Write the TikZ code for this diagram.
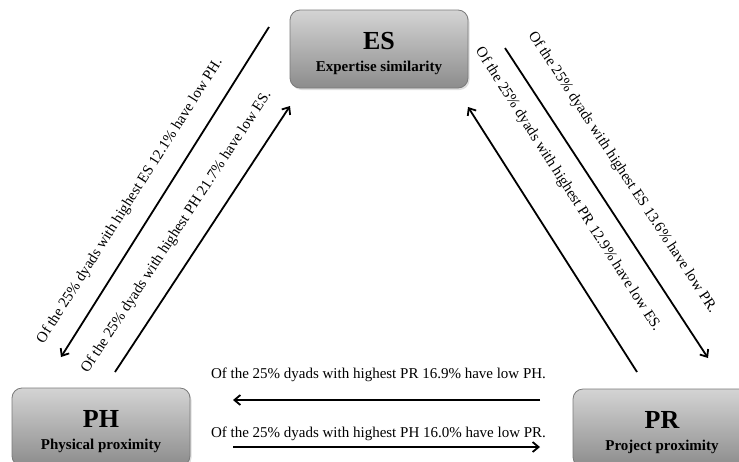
\documentclass[tikz,border=0pt]{standalone}
\usepackage{fontspec}
\setmainfont{Liberation Serif}
\usetikzlibrary{arrows.meta,shadows}
\definecolor{boxtop}{HTML}{D4D4D4}
\definecolor{boxbot}{HTML}{8C8C8C}
\definecolor{boxborder}{HTML}{7A7A7A}
\begin{document}
\begin{tikzpicture}[x=1pt,y=-1pt,
  box/.style={draw=boxborder, line width=0.8pt, rounded corners=10pt,
    top color=boxtop, bottom color=boxbot, minimum width=178pt,
    minimum height=78pt, inner sep=0pt,
    drop shadow={opacity=0.25, shadow xshift=1.5pt, shadow yshift=-2pt}},
  ttl/.style={font=\fontsize{26}{30}\selectfont\bfseries, anchor=base, inner sep=0pt},
  subt/.style={font=\fontsize{15}{18}\selectfont\bfseries, anchor=base, inner sep=0pt},
  lbl/.style={font=\fontsize{15}{18}\selectfont, inner sep=0pt},
  arr/.style={line width=1.8pt, -{Straight Barb[length=6pt,width=10pt]}}
]
\useasboundingbox (0,0) rectangle (739,461);
\clip (0,0) rectangle (739,461);

% boxes
\node[box] (es) at (379,49) {};
\node[box] (ph) at (101,427) {};
\node[box] (pr) at (662,428) {};

\node[ttl] (esT) at ([yshift=-40pt]es.north) {ES};
\node[subt] (esS) at ([yshift=-62pt]es.north) {Expertise similarity};
\node[ttl] (phT) at ([yshift=-40pt]ph.north) {PH};
\node[subt] (phS) at ([yshift=-62pt]ph.north) {Physical proximity};
\node[ttl] (prT) at ([yshift=-40pt]pr.north) {PR};
\node[subt] (prS) at ([yshift=-62pt]pr.north) {Project proximity};

% arrow end points
\coordinate (a1) at (269,27);  \coordinate (a2) at (61,357);
\coordinate (b1) at (115,372); \coordinate (b2) at (290,106);
\coordinate (c1) at (505,48);  \coordinate (c2) at (708,358);
\coordinate (d1) at (637,372); \coordinate (d2) at (468,107);
\coordinate (e1) at (540,400); \coordinate (e2) at (233,400);
\coordinate (f1) at (233,447); \coordinate (f2) at (540,447);

\draw[arr] (a1) -- (a2);
\draw[arr] (b1) -- (b2);
\draw[arr] (c1) -- (c2);
\draw[arr] (d1) -- (d2);
\draw[arr] (e1) -- (e2);
\draw[arr] (f1) -- (f2);

% labels
\node[lbl, rotate=57.65] (la) at (130,201) {Of the 25\% dyads with highest ES 12.1\% have low PH.};
\node[lbl, rotate=56.76] (lb) at (176.5,232) {Of the 25\% dyads with highest PH 21.7\% have low ES.};
\node[lbl, rotate=-56.78] (lc) at (622.5,172.5) {Of the 25\% dyads with highest ES 13.6\% have low PR.};
\node[lbl, rotate=-57.47] (ld) at (568,189.5) {Of the 25\% dyads with highest PR 12.9\% have low ES.};
\node[lbl, anchor=base] (le) at (378.5,378) {Of the 25\% dyads with highest PR 16.9\% have low PH.};
\node[lbl, anchor=base] (lf) at (378.5,437) {Of the 25\% dyads with highest PH 16.0\% have low PR.};
\end{tikzpicture}
\end{document}
